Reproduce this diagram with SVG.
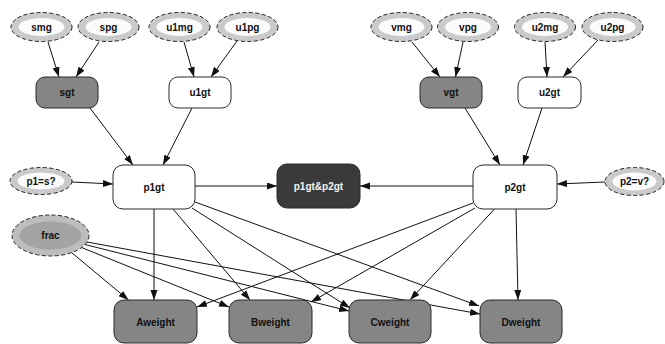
<svg xmlns="http://www.w3.org/2000/svg" width="665" height="344" viewBox="0 0 665 344">
  <style>
    .lbl { font-family: "Liberation Sans", Arial, sans-serif; font-weight: bold; font-size: 10px; text-anchor: middle; dominant-baseline: central; fill: #111; }
    .lbl-w { fill: #f4f4f4; }
    .box { stroke: #2a2a2a; stroke-width: 1; }
    .white { fill: #ffffff; }
    .grey { fill: #858585; }
    .dark { fill: #3a3a3a; }
    .ring { fill: #cacaca; stroke: #222; stroke-width: 1; stroke-dasharray: 4 2.5; }
    .core { fill: #fbfbfb; }
    .ring-f { fill: #bdbdbd; stroke: #222; stroke-width: 1; stroke-dasharray: 4 2.5; }
    .core-f { fill: #a4a4a4; }
    .edge { stroke: #111; stroke-width: 1; fill: none; marker-end: url(#arrow); }
  </style>
  <defs>
    <marker id="arrow" markerUnits="userSpaceOnUse" markerWidth="10" markerHeight="8" refX="10" refY="3.5" orient="auto">
      <path d="M0,0 L10,3.5 L0,7 z" fill="#111"/>
    </marker>
  </defs>
  <rect width="665" height="344" fill="#ffffff"/>

  <!-- connectors -->
  <g id="edges">
    <line class="edge" x1="48" y1="42" x2="59" y2="77"/>
    <line class="edge" x1="99" y1="42" x2="76" y2="77"/>
    <line class="edge" x1="184" y1="42" x2="194" y2="77"/>
    <line class="edge" x1="237" y1="41" x2="211" y2="77"/>
    <line class="edge" x1="412" y1="42" x2="440" y2="77"/>
    <line class="edge" x1="463" y1="42" x2="455.5" y2="77"/>
    <line class="edge" x1="545" y1="42" x2="547" y2="77"/>
    <line class="edge" x1="598" y1="40" x2="563" y2="77"/>
    <line class="edge" x1="90" y1="108" x2="133" y2="165"/>
    <line class="edge" x1="192" y1="108" x2="163" y2="165"/>
    <line class="edge" x1="465" y1="108" x2="500" y2="165"/>
    <line class="edge" x1="542" y1="108" x2="523" y2="165"/>
    <line class="edge" x1="72" y1="182" x2="113" y2="184"/>
    <line class="edge" x1="605" y1="182" x2="557" y2="184"/>
    <line class="edge" x1="195" y1="186" x2="277" y2="186"/>
    <line class="edge" x1="473" y1="186" x2="360" y2="186"/>
    <!-- p1gt to the weights -->
    <line class="edge" x1="154" y1="209" x2="154" y2="300"/>
    <line class="edge" x1="173" y1="209" x2="250" y2="300"/>
    <line class="edge" x1="192" y1="208" x2="350" y2="308"/>
    <line class="edge" x1="195" y1="202" x2="479" y2="306"/>
    <!-- frac to the weights -->
    <line class="edge" x1="71.5" y1="252.5" x2="128.5" y2="300"/>
    <line class="edge" x1="81.5" y1="247.5" x2="229" y2="307"/>
    <line class="edge" x1="85" y1="244.5" x2="349" y2="311"/>
    <line class="edge" x1="87" y1="242" x2="480" y2="314"/>
    <!-- p2gt to the weights -->
    <line class="edge" x1="473" y1="203" x2="197" y2="307"/>
    <line class="edge" x1="475" y1="208" x2="311" y2="302"/>
    <line class="edge" x1="494.5" y1="209" x2="410" y2="300"/>
    <line class="edge" x1="516" y1="209" x2="518" y2="300"/>
  </g>

  <!-- top ellipses -->
  <g id="smg"><ellipse class="ring" cx="41.5" cy="27" rx="30.5" ry="14.5"/><ellipse class="core" cx="41.5" cy="27" rx="23" ry="9"/><text class="lbl" x="41.5" y="27">smg</text></g>
  <g id="spg"><ellipse class="ring" cx="108.5" cy="27" rx="30.5" ry="14.5"/><ellipse class="core" cx="108.5" cy="27" rx="23" ry="9"/><text class="lbl" x="108.5" y="27">spg</text></g>
  <g id="u1mg"><ellipse class="ring" cx="179.5" cy="27" rx="30.5" ry="14.5"/><ellipse class="core" cx="179.5" cy="27" rx="23" ry="9"/><text class="lbl" x="179.5" y="27">u1mg</text></g>
  <g id="u1pg"><ellipse class="ring" cx="247.5" cy="27" rx="30.5" ry="14.5"/><ellipse class="core" cx="247.5" cy="27" rx="23" ry="9"/><text class="lbl" x="247.5" y="27">u1pg</text></g>
  <g id="vmg"><ellipse class="ring" cx="401.5" cy="27" rx="30.5" ry="14.5"/><ellipse class="core" cx="401.5" cy="27" rx="23" ry="9"/><text class="lbl" x="401.5" y="27">vmg</text></g>
  <g id="vpg"><ellipse class="ring" cx="468" cy="27" rx="30.5" ry="14.5"/><ellipse class="core" cx="468" cy="27" rx="23" ry="9"/><text class="lbl" x="468" y="27">vpg</text></g>
  <g id="u2mg"><ellipse class="ring" cx="545" cy="27" rx="30.5" ry="14.5"/><ellipse class="core" cx="545" cy="27" rx="23" ry="9"/><text class="lbl" x="545" y="27">u2mg</text></g>
  <g id="u2pg"><ellipse class="ring" cx="612.5" cy="27" rx="30.5" ry="14.5"/><ellipse class="core" cx="612.5" cy="27" rx="23" ry="9"/><text class="lbl" x="612.5" y="27">u2pg</text></g>

  <!-- second row boxes -->
  <g id="sgt"><rect class="box grey" x="36" y="77" width="62" height="31" rx="9"/><text class="lbl" x="67" y="92.5">sgt</text></g>
  <g id="u1gt"><rect class="box white" x="169" y="77" width="62" height="31" rx="9"/><text class="lbl" x="200" y="92.5">u1gt</text></g>
  <g id="vgt"><rect class="box grey" x="420" y="77" width="62" height="31" rx="9"/><text class="lbl" x="451" y="92.5">vgt</text></g>
  <g id="u2gt"><rect class="box white" x="518" y="77" width="63" height="31" rx="9"/><text class="lbl" x="549.5" y="92.5">u2gt</text></g>

  <!-- middle row -->
  <g id="p1eqs"><ellipse class="ring" cx="41" cy="181" rx="31" ry="13.5"/><ellipse class="core" cx="41" cy="181" rx="23.5" ry="8.5"/><text class="lbl" x="41" y="181">p1=s?</text></g>
  <g id="p1gt"><rect class="box white" x="113" y="165" width="82" height="44" rx="10"/><text class="lbl" x="154" y="187">p1gt</text></g>
  <g id="p1gt_p2gt"><rect class="box dark" x="277" y="164" width="83" height="44" rx="10"/><text class="lbl lbl-w" x="318.5" y="186">p1gt&amp;p2gt</text></g>
  <g id="p2gt"><rect class="box white" x="473" y="165" width="84" height="44" rx="10"/><text class="lbl" x="515" y="187">p2gt</text></g>
  <g id="p2eqv"><ellipse class="ring" cx="634.5" cy="181.5" rx="29.5" ry="14"/><ellipse class="core" cx="634.5" cy="181.5" rx="22" ry="9"/><text class="lbl" x="634.5" y="181.5">p2=v?</text></g>

  <g id="frac"><ellipse class="ring-f" cx="50.5" cy="235.5" rx="38.5" ry="20.5"/><ellipse class="core-f" cx="50.5" cy="235.5" rx="31" ry="14"/><text class="lbl" x="50.5" y="235.5">frac</text></g>

  <!-- bottom row -->
  <g id="Aweight"><rect class="box grey" x="114" y="300" width="83" height="43" rx="10"/><text class="lbl" x="155.5" y="322">Aweight</text></g>
  <g id="Bweight"><rect class="box grey" x="229" y="300" width="83" height="43" rx="10"/><text class="lbl" x="270.5" y="322">Bweight</text></g>
  <g id="Cweight"><rect class="box grey" x="349" y="300" width="82" height="43" rx="10"/><text class="lbl" x="390" y="322">Cweight</text></g>
  <g id="Dweight"><rect class="box grey" x="480" y="300" width="82" height="43" rx="10"/><text class="lbl" x="521" y="322">Dweight</text></g>
</svg>
